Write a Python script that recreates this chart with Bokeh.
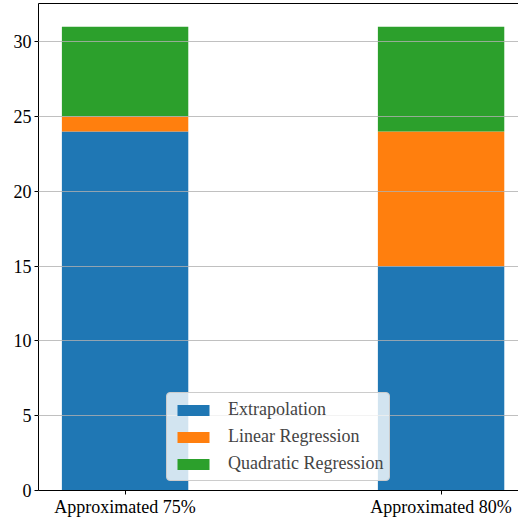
from bokeh.plotting import figure
from bokeh.models import ColumnDataSource, FixedTicker, LinearAxis, Legend, Range1d
from bokeh.embed import file_html
from bokeh.resources import INLINE

categories = ["Approximated 75%", "Approximated 80%"]
extrapolation = [24, 15]
linear_regression = [1, 9]
quadratic_regression = [6, 7]
series_names = ["Extrapolation", "Linear Regression", "Quadratic Regression"]
colors = ["#1f77b4", "#ff7f0e", "#2ca02c"]
y_ticks = [0, 5, 10, 15, 20, 25, 30]

xpos = list(range(len(categories)))
source = ColumnDataSource(dict(
    x=xpos,
    Extrapolation=extrapolation,
    **{"Linear Regression": linear_regression, "Quadratic Regression": quadratic_regression},
))

FONT = "Liberation Serif"
FS = "18px"

p = figure(width=518, height=519, output_backend="svg", toolbar_location=None,
           x_range=Range1d(-0.274, 1.245), y_range=Range1d(0, 32.55),
           min_border_left=38, min_border_right=0, min_border_top=3, min_border_bottom=25)

renderers = p.vbar_stack(series_names, x="x", width=0.4, color=colors, source=source,
                         line_color=None)

xaxis = p.below[0]
yaxis = p.left[0]

p.outline_line_color = None
top_axis = LinearAxis(ticker=FixedTicker(ticks=[]), major_label_text_font_size="0px",
                      major_label_standoff=0,
                      major_tick_out=0, major_tick_in=0, minor_tick_out=0, minor_tick_in=0,
                      axis_line_color="black", axis_line_width=1)
p.add_layout(top_axis, "above")

xaxis.ticker = FixedTicker(ticks=xpos)
xaxis.major_label_overrides = {i: c for i, c in zip(xpos, categories)}
yaxis.ticker = FixedTicker(ticks=y_ticks)
for ax in [xaxis, yaxis]:
    ax.major_label_text_font = FONT
    ax.major_label_text_font_size = FS
    ax.major_label_text_color = "black"
    ax.axis_line_color = "black"
    ax.axis_line_width = 1
    ax.major_tick_line_color = "black"
    ax.major_tick_out = 4
    ax.major_tick_in = 0
    ax.minor_tick_line_color = None
xaxis.major_label_standoff = 2
yaxis.major_label_standoff = 3

p.xgrid.visible = False
p.ygrid.ticker = FixedTicker(ticks=y_ticks)
p.ygrid.grid_line_color = "#b0b0b0"
p.ygrid.grid_line_width = 0.8
p.ygrid.level = "guide"

legend = Legend(items=[(n, [r]) for n, r in zip(series_names, renderers)],
                location=(128, 9))
legend.label_text_font = FONT
legend.label_text_font_size = FS
legend.glyph_width = 40
legend.glyph_height = 14
legend.label_height = 18
legend.label_standoff = 15
legend.spacing = 6
legend.padding = 6
legend.margin = 0
legend.border_line_color = "#cccccc"
legend.border_line_width = 1.2
legend.border_line_alpha = 1
legend.border_radius = 4
legend.background_fill_color = "white"
legend.background_fill_alpha = 0.8
p.add_layout(legend)

open("out.html", "w").write(file_html(p, INLINE))
